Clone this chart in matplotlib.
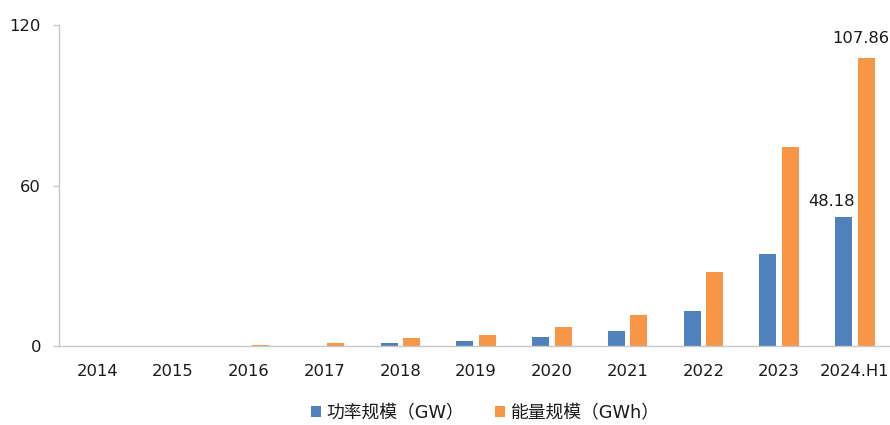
import matplotlib
matplotlib.use("Agg")
import matplotlib.pyplot as plt
import numpy as np

plt.rcParams['font.family'] = ['DejaVu Sans', 'Noto Sans CJK SC']

categories = ["2014", "2015", "2016", "2017", "2018", "2019", "2020", "2021", "2022", "2023", "2024.H1"]
power_gw = [0.05, 0.05, 0.1, 0.15, 1.0, 1.7, 3.28, 5.73, 13.1, 34.5, 48.18]
energy_gwh = [0.05, 0.05, 0.5, 1.0, 3.1, 4.2, 7.1, 11.7, 27.5, 74.5, 107.86]
series_names = ["功率规模（GW）", "能量规模（GWh）"]
colors = ["#4F81BD", "#F79646"]

fig = plt.figure(figsize=(8.9, 4.25), dpi=100)
ax = fig.add_axes([0.0668, 0.186, 0.9363, 0.755])

x = np.arange(len(categories))
w = 0.224
off = 0.148
b1 = ax.bar(x - off, power_gw, w, color=colors[0], label=series_names[0])
b2 = ax.bar(x + off, energy_gwh, w, color=colors[1], label=series_names[1])

fs = 11.8
ax.text(x[-1] - off - 0.16, power_gw[-1] + 4.1, f"{power_gw[-1]:.2f}", ha='center', va='baseline',
        fontsize=fs, color='#1a1a1a')
ax.text(x[-1] + off - 0.07, energy_gwh[-1] + 5.5, f"{energy_gwh[-1]:.2f}", ha='center', va='baseline',
        fontsize=fs, color='#1a1a1a')

ax.set_ylim(0, 120)
ax.set_yticks([0, 60, 120])
ax.set_xlim(-0.5, len(categories) - 0.5)
ax.set_xticks(x)
ax.set_xticklabels(categories)
ax.tick_params(axis='x', length=0, pad=13, labelsize=fs, colors='#1a1a1a')
ax.tick_params(axis='y', length=4.3, width=1.0, pad=9, labelsize=fs, colors='#c8c8c8', labelcolor='#1a1a1a')
for s in ['top', 'right']:
    ax.spines[s].set_visible(False)
for s in ['left', 'bottom']:
    ax.spines[s].set_color('#c8c8c8')
    ax.spines[s].set_linewidth(1.0)

leg = fig.legend(handles=[b1, b2], labels=series_names, loc='center', bbox_to_anchor=(0.545, 0.028),
                 ncol=2, frameon=False, fontsize=12.8, handlelength=0.6, handleheight=0.6,
                 handletextpad=0.3, columnspacing=1.7)
for t in leg.get_texts():
    t.set_color('#1a1a1a')

fig.savefig("out.png", dpi=100)
